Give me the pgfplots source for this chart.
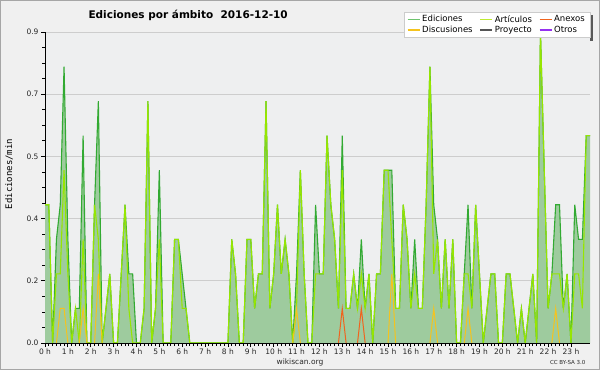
\documentclass[border=0pt]{standalone}
\usepackage{pgfplots}
\pgfplotsset{compat=1.18}
\usepackage{pgfplotstable}
\usepackage{fontspec}
\setmainfont{DejaVu Sans}
\newfontfamily\monofont{DejaVu Sans Mono}
\definecolor{bgc}{RGB}{240,240,240}
\definecolor{plotbg}{RGB}{238,239,240}
\definecolor{fillg}{RGB}{158,203,158}
\definecolor{edic}{RGB}{50,170,50}
\definecolor{edicleg}{RGB}{110,195,110}
\definecolor{artc}{RGB}{150,230,0}
\definecolor{artleg}{RGB}{190,235,50}
\definecolor{anexc}{RGB}{240,100,30}
\definecolor{discc}{RGB}{245,195,30}
\definecolor{proyc}{RGB}{85,85,85}
\definecolor{otrc}{RGB}{150,50,240}
\definecolor{gridc}{RGB}{205,205,205}
\definecolor{txtc}{RGB}{40,40,40}

\pgfplotstableread{
i tot art
0 0.4 0.4
1 0.4 0.4
2 0 0
3 0.3 0.2
4 0.4 0.2
5 0.8 0.5
6 0.3 0.2
7 0 0
8 0.1 0.1
9 0.1 0
10 0.6 0.3
11 0 0
12 0 0
13 0.4 0.4
14 0.7 0.3
15 0 0
16 0.1 0.1
17 0.2 0.2
18 0 0
19 0 0
20 0.2 0.2
21 0.4 0.4
22 0.2 0.1
23 0.2 0
24 0 0
25 0 0
26 0.1 0.1
27 0.7 0.7
28 0 0
29 0.1 0.1
30 0.5 0.3
31 0 0
32 0 0
33 0 0
34 0.3 0.3
35 0.3 0.3
36 0.2 0.1
37 0.1 0.1
38 0 0
39 0 0
40 0 0
41 0 0
42 0 0
43 0 0
44 0 0
45 0 0
46 0 0
47 0 0
48 0 0
49 0.3 0.3
50 0.2 0.2
51 0 0
52 0 0
53 0.3 0.3
54 0.3 0.3
55 0.1 0.1
56 0.2 0.2
57 0.2 0.2
58 0.7 0.7
59 0.1 0.1
60 0.2 0.2
61 0.4 0.4
62 0.2 0.2
63 0.3 0.3
64 0.2 0.2
65 0 0
66 0.2 0.1
67 0.5 0.5
68 0.2 0.2
69 0 0
70 0 0
71 0.4 0.2
72 0.2 0.2
73 0.2 0.2
74 0.6 0.6
75 0.4 0.4
76 0.3 0.3
77 0.1 0.1
78 0.6 0.5
79 0.1 0.1
80 0.1 0.1
81 0.2 0.2
82 0.1 0.1
83 0.3 0.2
84 0.1 0.1
85 0.2 0.2
86 0 0
87 0.2 0.2
88 0.2 0.2
89 0.5 0.5
90 0.5 0.5
91 0.5 0.3
92 0.1 0.1
93 0.1 0.1
94 0.4 0.4
95 0.3 0.3
96 0.1 0.1
97 0.3 0.2
98 0.1 0.1
99 0.1 0.1
100 0.4 0.4
101 0.8 0.8
102 0.4 0.2
103 0.3 0.3
104 0.1 0.1
105 0.3 0.3
106 0.1 0.1
107 0.3 0.3
108 0 0
109 0 0
110 0.2 0.2
111 0.4 0.2
112 0.1 0.1
113 0.4 0.4
114 0.2 0.2
115 0 0
116 0.1 0.1
117 0.2 0.2
118 0.2 0.2
119 0 0
120 0 0
121 0.2 0.2
122 0.2 0.2
123 0.1 0.1
124 0 0
125 0.1 0.1
126 0 0
127 0.1 0.1
128 0.2 0.2
129 0 0
130 0.9 0.9
131 0.5 0.5
132 0.1 0.1
133 0.2 0.2
134 0.4 0.2
135 0.4 0.2
136 0.1 0.1
137 0.2 0.2
138 0 0
139 0.4 0.2
140 0.3 0.2
141 0.3 0.1
142 0.6 0.6
143 0.6 0.6
}\edits

\begin{document}
\begin{tikzpicture}[x=1pt,y=1pt]
\useasboundingbox (0,0) rectangle (600,370);
\fill[bgc] (0,0) rectangle (600,370);
\draw[gray!70,line width=1pt] (0.5,0.5) rectangle (599.5,369.5);
\fill[black!65] (408,329) rectangle (593,355);
\begin{axis}[
  at={(45pt,27pt)}, anchor=south west,
  scale only axis, width=545pt, height=311pt,
  xmin=0, xmax=143, ymin=0, ymax=0.9,
  axis background/.style={fill=plotbg},
  axis x line*=bottom, axis y line*=left,
  axis line style={black, line width=0.9pt},
  xtick={0,6,...,138},
  xticklabels={0 h,1 h,2 h,3 h,4 h,5 h,6 h,7 h,8 h,9 h,10 h,11 h,12 h,13 h,14 h,15 h,16 h,17 h,18 h,19 h,20 h,21 h,22 h,23 h},
  minor x tick num=5,
  ytick={0,0.18,0.36,0.54,0.72,0.9},
  yticklabels={0.0,0.2,0.4,0.5,0.7,0.9},
  minor y tick num=3,
  tick align=outside,
  major tick length=4pt, minor tick length=3pt,
  tick style={black, line width=0.8pt},
  ymajorgrids, grid style={gridc, line width=0.8pt},
  ticklabel style={font=\fontsize{7.5}{8}\selectfont, text=txtc},
  xticklabel style={yshift=2pt},
  yticklabel style={xshift=1pt},
  clip=true,
  unbounded coords=jump,
  legend columns=3,
  legend cell align=left,
  legend style={at={(1,1.064)}, anchor=north east, fill=white, draw=gray!40,
    font=\fontsize{8.5}{9}\selectfont, inner xsep=3pt, inner ysep=1pt, row sep=-1.5pt,
    /tikz/every even column/.append style={column sep=5pt}},
  legend image code/.code={\draw[#1] (0pt,0pt) -- (12pt,0pt);},
]
\addplot[draw=none, fill=fillg, forget plot] table[x=i, y=tot] {\edits} \closedcycle;
\addplot[edic, line width=1.1pt, forget plot] table[x=i, y=tot] {\edits};
\addplot[artc, line width=1.1pt, forget plot] table[x=i, y=art] {\edits};
\addplot[anexc, line width=1pt, forget plot] coordinates {(77,0) (78,0.1) (79,0) (80,nan) (82,0) (83,0.1) (84,0)};
\addplot[discc, line width=1pt, forget plot] coordinates {(3,0) (4,0.1) (5,0.1) (6,0) (7,nan) (9,0) (10,0.1) (11,0) (12,nan) (13,0) (14,0.2) (15,0) (16,nan) (65,0) (66,0.1) (67,0) (68,nan) (90,0) (91,0.2) (92,0) (93,nan) (101,0) (102,0.1) (103,0) (104,nan) (110,0) (111,0.1) (112,0) (113,nan) (133,0) (134,0.1) (135,0)};
\addlegendimage{draw=edicleg, line width=1.2pt}
\addlegendentry{Ediciones}
\addlegendimage{draw=artleg, line width=1.2pt}
\addlegendentry{Artículos}
\addlegendimage{draw=anexc, line width=1.2pt}
\addlegendentry{Anexos}
\addlegendimage{draw=discc, line width=1.2pt}
\addlegendentry{Discusiones}
\addlegendimage{draw=proyc, line width=1.2pt}
\addlegendentry{Proyecto}
\addlegendimage{draw=otrc, line width=1.2pt}
\addlegendentry{Otros}
\draw[black, line width=0.9pt] (axis cs:0,0) -- (axis cs:143,0);
\end{axis}
\node[anchor=west, font=\bfseries\fontsize{10.5}{12}\selectfont, text=black] at (85,355) {Ediciones por ámbito\ \ 2016-12-10};
\node[rotate=90, font=\monofont\fontsize{9}{10}\selectfont, text=black] at (9,196) {Ediciones/min};
\node[font=\fontsize{7.5}{8}\selectfont, text=txtc] at (300,8) {wikiscan.org};
\node[anchor=east, font=\fontsize{5.5}{6}\selectfont, text=txtc] at (589,8) {CC BY-SA 3.0};
\end{tikzpicture}
\end{document}
